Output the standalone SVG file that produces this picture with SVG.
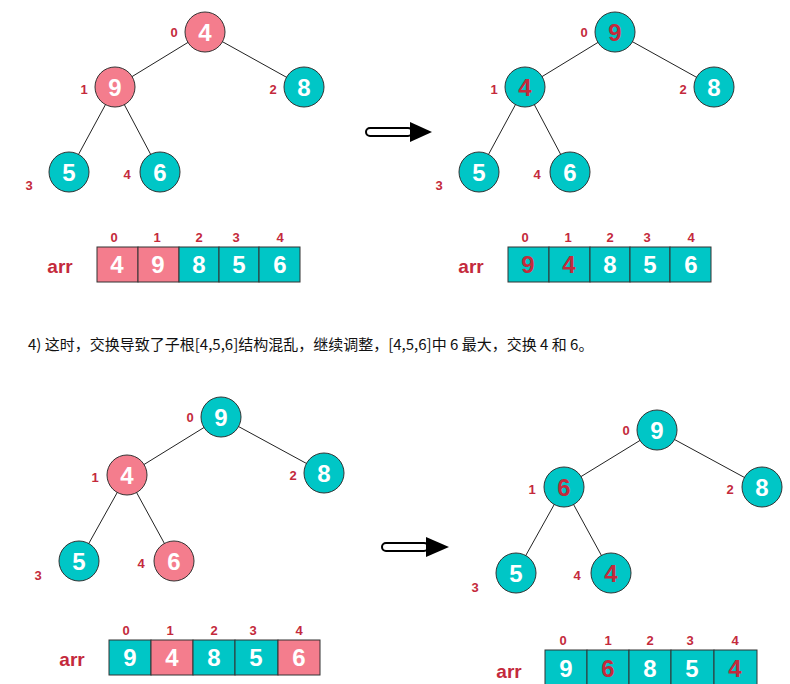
<svg xmlns="http://www.w3.org/2000/svg" width="790" height="684" viewBox="0 0 790 684">
<style>
.p{fill:#F47D8D;stroke:#333;stroke-width:1}
.t{fill:#00C6C6;stroke:#333;stroke-width:1}
.v{font-family:"Liberation Sans",Arial,sans-serif;font-weight:bold;font-size:24px;fill:#fff;text-anchor:middle}
.r{fill:#C42A3C}
.l{font-family:"Liberation Sans",Arial,sans-serif;font-weight:bold;font-size:13px;fill:#C42A3C;text-anchor:middle}
.a{font-family:"Liberation Sans",Arial,sans-serif;font-weight:bold;font-size:19px;fill:#C42A3C;text-anchor:middle}
line{stroke:#222;stroke-width:1}
</style>
<rect width="790" height="684" fill="#fff"/>
<g id="connectors">
<line x1="205" y1="32" x2="115" y2="87"/><line x1="205" y1="32" x2="304" y2="87"/><line x1="115" y1="87" x2="69" y2="172"/><line x1="115" y1="87" x2="160" y2="172"/>
<line x1="615" y1="32" x2="525" y2="87"/><line x1="615" y1="32" x2="714" y2="87"/><line x1="525" y1="87" x2="479" y2="172"/><line x1="525" y1="87" x2="570" y2="172"/>
<line x1="221" y1="417" x2="127" y2="475"/><line x1="221" y1="417" x2="324" y2="473"/><line x1="127" y1="475" x2="79" y2="561"/><line x1="127" y1="475" x2="174" y2="561"/>
<line x1="657" y1="430" x2="564" y2="487"/><line x1="657" y1="430" x2="762" y2="487"/><line x1="564" y1="487" x2="516" y2="573"/><line x1="564" y1="487" x2="611" y2="573"/>
<g id="arrow1"><rect x="366" y="128" width="46" height="8" rx="4" fill="#fff" stroke="#000" stroke-width="2"/><polygon points="410,122 432,132 410,142" fill="#000"/></g>
<g id="arrow2"><rect x="382" y="543" width="46" height="8" rx="4" fill="#fff" stroke="#000" stroke-width="2"/><polygon points="426,537 449,547 426,557" fill="#000"/></g>
</g>
<g id="tree1">
<g id="t1n0"><circle class="p" cx="205" cy="32" r="20"/><text class="v" x="205" y="41">4</text><text class="l" x="174" y="37">0</text></g>
<g id="t1n1"><circle class="p" cx="115" cy="87" r="20"/><text class="v" x="115" y="96">9</text><text class="l" x="84" y="94">1</text></g>
<g id="t1n2"><circle class="t" cx="304" cy="87" r="20"/><text class="v" x="304" y="96">8</text><text class="l" x="273" y="94">2</text></g>
<g id="t1n3"><circle class="t" cx="69" cy="172" r="20"/><text class="v" x="69" y="181">5</text><text class="l" x="29" y="190">3</text></g>
<g id="t1n4"><circle class="t" cx="160" cy="172" r="20"/><text class="v" x="160" y="181">6</text><text class="l" x="127" y="179">4</text></g>
</g>
<g id="arr1">
<text class="a" x="60" y="273">arr</text>
<rect class="p" x="97" y="247" width="41" height="35"/><rect class="p" x="138" y="247" width="41" height="35"/><rect class="t" x="179" y="247" width="40" height="35"/><rect class="t" x="219" y="247" width="40" height="35"/><rect class="t" x="259" y="247" width="41" height="35"/>
<text class="v" x="117" y="273">4</text><text class="v" x="158" y="273">9</text><text class="v" x="199" y="273">8</text><text class="v" x="239" y="273">5</text><text class="v" x="280" y="273">6</text>
<text class="l" x="114" y="242">0</text><text class="l" x="157" y="242">1</text><text class="l" x="199" y="242">2</text><text class="l" x="236" y="242">3</text><text class="l" x="280" y="242">4</text>
</g>
<g id="tree2">
<g id="t2n0"><circle class="t" cx="615" cy="32" r="20"/><text class="v r" x="615" y="41">9</text><text class="l" x="584" y="37">0</text></g>
<g id="t2n1"><circle class="t" cx="525" cy="87" r="20"/><text class="v r" x="525" y="96">4</text><text class="l" x="494" y="94">1</text></g>
<g id="t2n2"><circle class="t" cx="714" cy="87" r="20"/><text class="v" x="714" y="96">8</text><text class="l" x="683" y="94">2</text></g>
<g id="t2n3"><circle class="t" cx="479" cy="172" r="20"/><text class="v" x="479" y="181">5</text><text class="l" x="439" y="190">3</text></g>
<g id="t2n4"><circle class="t" cx="570" cy="172" r="20"/><text class="v" x="570" y="181">6</text><text class="l" x="537" y="179">4</text></g>
</g>
<g id="arr2">
<text class="a" x="471" y="273">arr</text>
<rect class="t" x="508" y="247" width="41" height="35"/><rect class="t" x="549" y="247" width="41" height="35"/><rect class="t" x="590" y="247" width="40" height="35"/><rect class="t" x="630" y="247" width="40" height="35"/><rect class="t" x="670" y="247" width="41" height="35"/>
<text class="v r" x="528" y="273">9</text><text class="v r" x="569" y="273">4</text><text class="v" x="610" y="273">8</text><text class="v" x="650" y="273">5</text><text class="v" x="691" y="273">6</text>
<text class="l" x="525" y="242">0</text><text class="l" x="568" y="242">1</text><text class="l" x="610" y="242">2</text><text class="l" x="647" y="242">3</text><text class="l" x="691" y="242">4</text>
</g>
<text x="28" y="350" font-family="'Noto Sans CJK SC','Liberation Sans',sans-serif" font-size="15" fill="#111">4)  这时，交换导致了子根[4,5,6]结构混乱，继续调整，[4,5,6]中 6 最大，交换 4 和 6。</text>
<g id="tree3">
<g id="t3n0"><circle class="t" cx="221" cy="417" r="20"/><text class="v" x="221" y="426">9</text><text class="l" x="190" y="422">0</text></g>
<g id="t3n1"><circle class="p" cx="127" cy="475" r="20"/><text class="v" x="127" y="484">4</text><text class="l" x="95" y="482">1</text></g>
<g id="t3n2"><circle class="t" cx="324" cy="473" r="20"/><text class="v" x="324" y="482">8</text><text class="l" x="293" y="480">2</text></g>
<g id="t3n3"><circle class="t" cx="79" cy="561" r="20"/><text class="v" x="79" y="570">5</text><text class="l" x="38" y="580">3</text></g>
<g id="t3n4"><circle class="p" cx="174" cy="561" r="20"/><text class="v" x="174" y="570">6</text><text class="l" x="141" y="568">4</text></g>
</g>
<g id="arr3">
<text class="a" x="72" y="666">arr</text>
<rect class="t" x="109" y="640" width="42" height="35"/><rect class="p" x="151" y="640" width="42" height="35"/><rect class="t" x="193" y="640" width="42" height="35"/><rect class="t" x="235" y="640" width="43" height="35"/><rect class="p" x="278" y="640" width="42" height="35"/>
<text class="v" x="130" y="666">9</text><text class="v" x="172" y="666">4</text><text class="v" x="214" y="666">8</text><text class="v" x="256" y="666">5</text><text class="v" x="299" y="666">6</text>
<text class="l" x="126" y="635">0</text><text class="l" x="170" y="635">1</text><text class="l" x="214" y="635">2</text><text class="l" x="253" y="635">3</text><text class="l" x="299" y="635">4</text>
</g>
<g id="tree4">
<g id="t4n0"><circle class="t" cx="657" cy="430" r="20"/><text class="v" x="657" y="439">9</text><text class="l" x="626" y="435">0</text></g>
<g id="t4n1"><circle class="t" cx="564" cy="487" r="20"/><text class="v r" x="564" y="496">6</text><text class="l" x="532" y="494">1</text></g>
<g id="t4n2"><circle class="t" cx="762" cy="487" r="20"/><text class="v" x="762" y="496">8</text><text class="l" x="730" y="494">2</text></g>
<g id="t4n3"><circle class="t" cx="516" cy="573" r="20"/><text class="v" x="516" y="582">5</text><text class="l" x="475" y="592">3</text></g>
<g id="t4n4"><circle class="t" cx="611" cy="573" r="20"/><text class="v r" x="611" y="582">4</text><text class="l" x="577" y="580">4</text></g>
</g>
<g id="arr4">
<text class="a" x="509" y="678">arr</text>
<rect class="t" x="545" y="650" width="42" height="40"/><rect class="t" x="587" y="650" width="42" height="40"/><rect class="t" x="629" y="650" width="42" height="40"/><rect class="t" x="671" y="650" width="43" height="40"/><rect class="t" x="714" y="650" width="43" height="40"/>
<text class="v" x="566" y="677">9</text><text class="v r" x="608" y="677">6</text><text class="v" x="650" y="677">8</text><text class="v" x="692" y="677">5</text><text class="v r" x="735" y="677">4</text>
<text class="l" x="563" y="645">0</text><text class="l" x="608" y="645">1</text><text class="l" x="650" y="645">2</text><text class="l" x="690" y="645">3</text><text class="l" x="735" y="645">4</text>
</g>
</svg>
